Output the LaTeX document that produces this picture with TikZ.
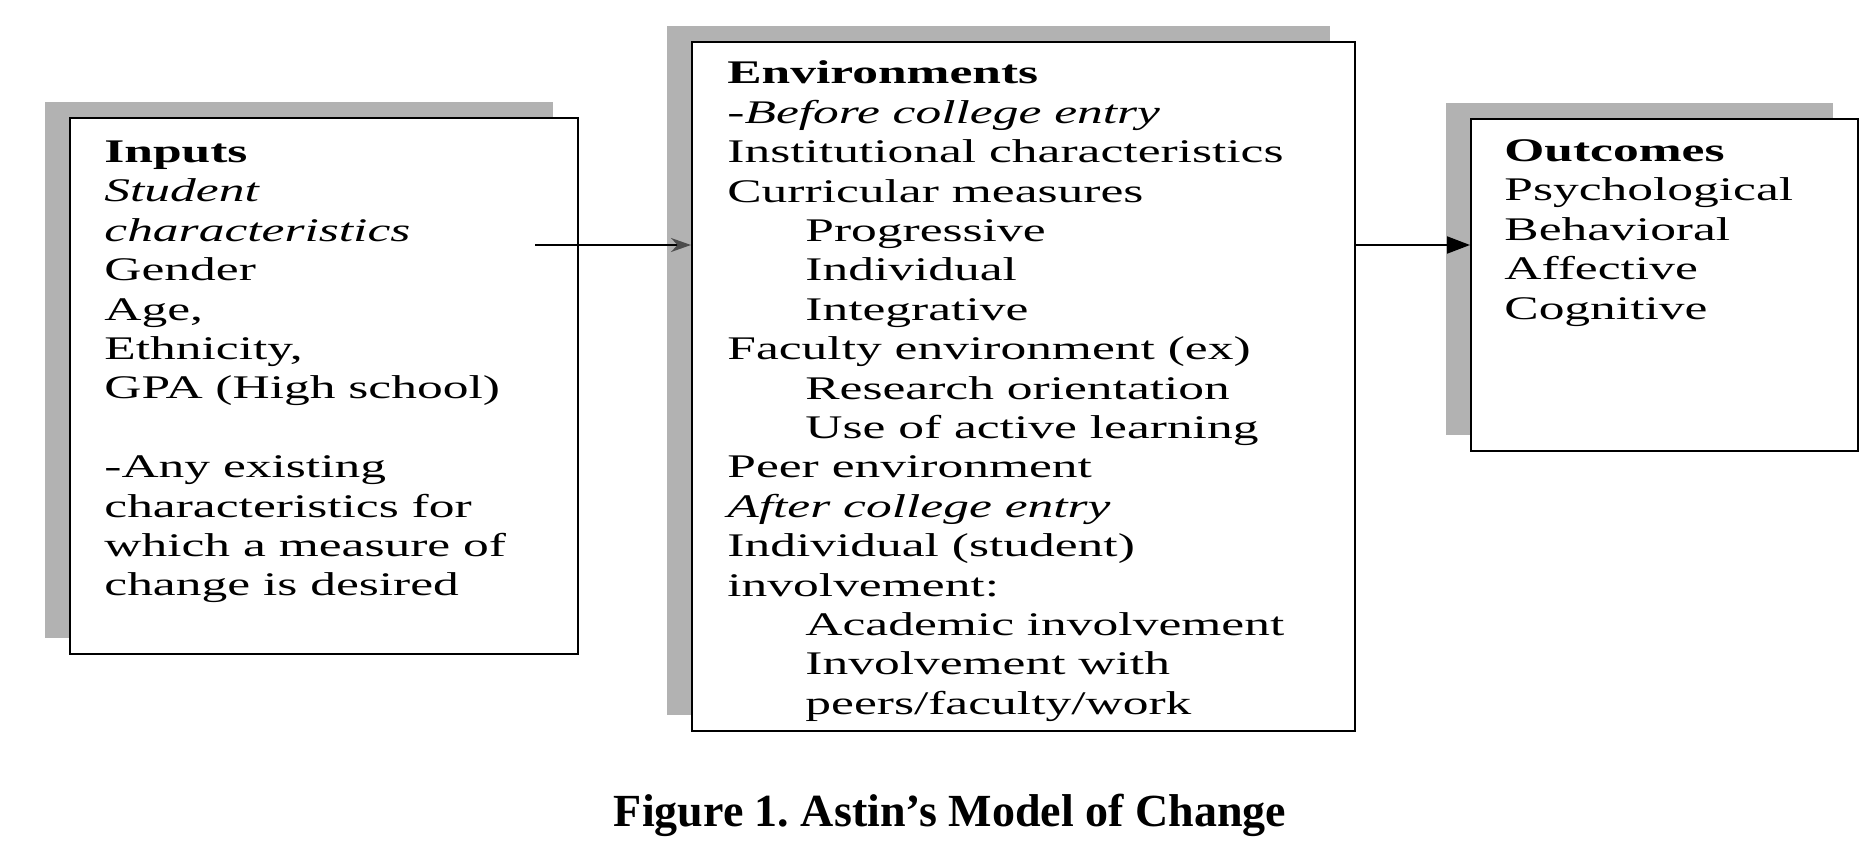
\documentclass[tikz,border=0pt]{standalone}
\usepackage{fontspec}
\usepackage{graphicx}
\setmainfont{Liberation Serif}
\usetikzlibrary{arrows.meta,shadows}
\frenchspacing
\newcommand\stepin{\hspace*{25pt}}
\newcommand\wide[1]{\scalebox{1.56}[1]{\begin{tabular}{@{}l@{}}#1\end{tabular}}}
\tikzset{
  box/.style={draw,line width=1.2pt,fill=white,anchor=north west,inner sep=0pt,
    drop shadow={shadow xshift=-12.5pt,shadow yshift=8pt,fill=black!30,opacity=1}},
  boxtext/.style={anchor=north west,inner sep=0pt,font=\fontsize{16.5}{19.7}\selectfont},
}
\begin{document}
\begin{tikzpicture}[x=0.5pt,y=-0.5pt]
\useasboundingbox (0,0) rectangle (1869,856);
% boxes
\node[box,minimum width=254pt,minimum height=268pt] (inp) at (69,117) {};
\node[box,minimum width=331.5pt,minimum height=344.5pt] (env) at (691,41) {};
\node[box,minimum width=193.5pt,minimum height=166pt] (out) at (1470,118) {};
% texts
\node[boxtext] (inptext) at (104,134.5) {\wide{\textbf{Inputs}\\
\textit{Student}\\
\textit{characteristics}\\
Gender\\
Age,\\
Ethnicity,\\
GPA (High school)\\
\\
-Any existing\\
characteristics for\\
which a measure of\\
change is desired}};
\node[boxtext] (envtext) at (727,56) {\wide{\textbf{Environments}\\
\textit{-Before college entry}\\
Institutional characteristics\\
Curricular measures\\
\stepin Progressive\\
\stepin Individual\\
\stepin Integrative\\
Faculty environment (ex)\\
\stepin Research orientation\\
\stepin Use of active learning\\
Peer environment\\
\textit{After college entry}\\
Individual (student)\\
involvement:\\
\stepin Academic involvement\\
\stepin Involvement with\\
\stepin peers/faculty/work}};
\node[boxtext] (outtext) at (1504,133.5) {\wide{\textbf{Outcomes}\\
Psychological\\
Behavioral\\
Affective\\
Cognitive}};
% arrows
\coordinate (inpout) at (535,245);
\draw[line width=1pt,-{Stealth[length=10pt,width=7pt,black!70]}] (inpout) -- (inpout -| env.west);
\draw[line width=1pt,-{Triangle[length=11.5pt,width=8.5pt]}] (env.east |- inpout) -- (inpout -| out.west);
% caption
\node[anchor=base,inner sep=0pt,font=\fontsize{23}{27}\selectfont\bfseries] (caption) at (950,826) {Figure 1. Astin’s Model of Change};
\end{tikzpicture}
\end{document}
